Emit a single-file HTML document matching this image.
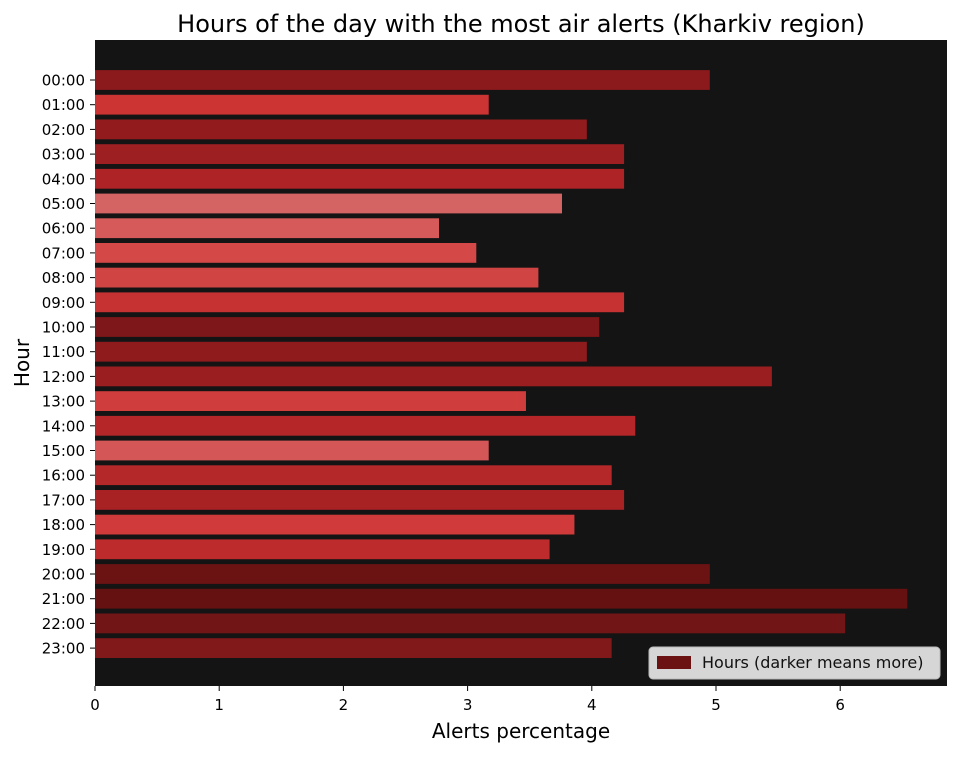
<!DOCTYPE html>
<html><head><meta charset="utf-8"><style>
body{margin:0;background:#fff;font-family:"Liberation Sans",sans-serif}
svg text{font-family:"DejaVu Sans","Liberation Sans",sans-serif}
</style></head><body>
<svg id="chart" width="957" height="752">
<text x="521" y="32" font-size="24" text-anchor="middle" fill="#000">Hours of the day with the most air alerts (Kharkiv region)</text>
<rect x="95" y="40" width="852" height="646" fill="#141414"/>
<g id="bars"></g>
<g id="yticks"></g>
<g id="xticks"></g>
<text x="521" y="738" font-size="20" text-anchor="middle">Alerts percentage</text>
<text transform="translate(29,363) rotate(-90)" font-size="20" text-anchor="middle">Hour</text>
<g>
<rect x="649" y="647" width="291" height="32" rx="4" fill="#d6d6d6" stroke="#bbb"/>
<rect x="657" y="656" width="34" height="13" fill="#6b1313"/>
<text x="702" y="668" font-size="16" fill="#111">Hours (darker means more)</text>
</g>
</svg>
<script>
const hours=["00:00","01:00","02:00","03:00","04:00","05:00","06:00","07:00","08:00","09:00","10:00","11:00","12:00","13:00","14:00","15:00","16:00","17:00","18:00","19:00","20:00","21:00","22:00","23:00"];
const values=[4.95,3.17,3.96,4.26,4.26,3.76,2.77,3.07,3.57,4.26,4.06,3.96,5.45,3.47,4.35,3.17,4.16,4.26,3.86,3.66,4.95,6.54,6.04,4.16];
const xTicks=[0,1,2,3,4,5,6];
const colors=["#8a1a1c","#cc3333","#921b1d","#9e1f21","#ad2326","#d46464","#d65a5a","#d44848","#d14444","#c63232","#7d1719","#8f1b1d","#9a1e20","#cf3d3d","#b52629","#d45656","#b5282a","#a82224","#d13a3a","#be2b2d","#6b1313","#661111","#721516","#811819"];
const NS="http://www.w3.org/2000/svg";
const x0=95,pxPer=124.2;
const xs=v=>x0+v*pxPer;
const ys=i=>80+i*24.7;
const bars=document.getElementById('bars'),yt=document.getElementById('yticks'),xt=document.getElementById('xticks');
hours.forEach((h,i)=>{
 const r=document.createElementNS(NS,'rect');
 r.setAttribute('x',xs(0));r.setAttribute('y',ys(i)-9.9);
 r.setAttribute('width',xs(values[i])-xs(0));r.setAttribute('height',19.8);
 r.setAttribute('fill',colors[i]);
 
 
 bars.appendChild(r);
 const t=document.createElementNS(NS,'text');
 t.setAttribute('x',85);t.setAttribute('y',ys(i)+5.5);t.setAttribute('text-anchor','end');t.setAttribute('font-size','15');
 t.textContent=h;
 
 
 yt.appendChild(t);
 const l=document.createElementNS(NS,'line');
 l.setAttribute('x1',90);l.setAttribute('x2',95);l.setAttribute('y1',ys(i));l.setAttribute('y2',ys(i));l.setAttribute('stroke','#000');
 yt.appendChild(l);
});
xTicks.forEach(v=>{
 const t=document.createElementNS(NS,'text');
 t.setAttribute('x',xs(v));t.setAttribute('y',710);t.setAttribute('text-anchor','middle');t.setAttribute('font-size','15');
 t.textContent=v;
 
 
 xt.appendChild(t);
 const l=document.createElementNS(NS,'line');
 l.setAttribute('x1',xs(v));l.setAttribute('x2',xs(v));l.setAttribute('y1',686);l.setAttribute('y2',691);l.setAttribute('stroke','#000');
 xt.appendChild(l);
});
</script>
</body></html>
